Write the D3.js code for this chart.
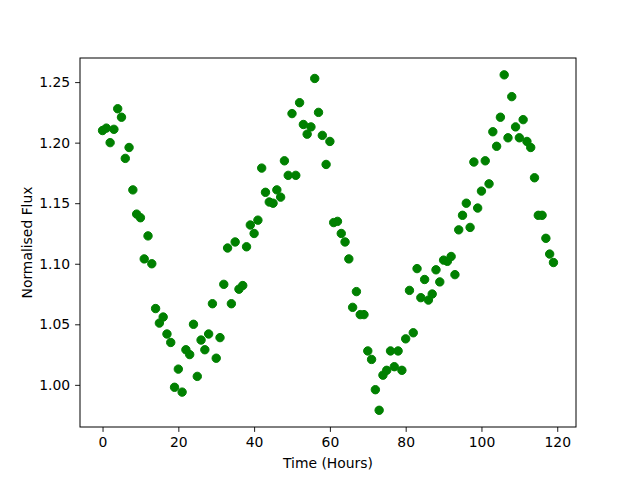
<!DOCTYPE html>
<html>
<head>
<meta charset="utf-8">
<script src="https://cdn.jsdelivr.net/npm/d3@7"></script>
<style>
  body { margin: 0; background: #fff; }
  text { font-family: "DejaVu Sans", sans-serif; }
</style>
</head>
<body>
<div id="chart"></div>
<script>
// hours of observation
var hours = d3.range(0, 120);

// normalised flux per hour
var flux = [
  1.210, 1.212, 1.200, 1.211, 1.228, 1.221, 1.187, 1.196, 1.161, 1.141,
  1.138, 1.104, 1.123, 1.100, 1.063, 1.051, 1.056, 1.042, 1.035, 0.998,
  1.013, 0.994, 1.029, 1.025, 1.050, 1.007, 1.037, 1.029, 1.042, 1.067,
  1.022, 1.039, 1.083, 1.113, 1.067, 1.118, 1.079, 1.082, 1.114, 1.132,
  1.125, 1.136, 1.179, 1.159, 1.151, 1.150, 1.161, 1.155, 1.185, 1.173,
  1.224, 1.173, 1.233, 1.215, 1.207, 1.213, 1.253, 1.225, 1.206, 1.182,
  1.201, 1.134, 1.135, 1.125, 1.118, 1.104, 1.064, 1.077, 1.058, 1.058,
  1.028, 1.021, 0.996, 0.979, 1.008, 1.012, 1.028, 1.015, 1.028, 1.012,
  1.038, 1.078, 1.043, 1.096, 1.072, 1.087, 1.070, 1.075, 1.095, 1.085,
  1.103, 1.102, 1.106, 1.091, 1.128, 1.140, 1.150, 1.130, 1.184, 1.146,
  1.160, 1.185, 1.166, 1.209, 1.197, 1.221, 1.256, 1.204, 1.238, 1.213,
  1.204, 1.219, 1.201, 1.196, 1.171, 1.140, 1.140, 1.121, 1.108, 1.101
];

var xTicks = [0, 20, 40, 60, 80, 100, 120];
var yTicks = [1.00, 1.05, 1.10, 1.15, 1.20, 1.25];

var svgWidth = 640;
var svgHeight = 480;
var margin = { top: 58, right: 64, bottom: 53, left: 80 };
var width = svgWidth - margin.left - margin.right;
var height = svgHeight - margin.top - margin.bottom;

var svg = d3.select("#chart")
    .append("svg")
    .attr("width", svgWidth)
    .attr("height", svgHeight);

var g = svg.append("g")
    .attr("transform", `translate(${margin.left}, ${margin.top})`);

// matplotlib-like 5% padding around the data
var xScale = d3.scaleLinear()
    .domain([-5.95, 124.95])
    .range([0, width]);

var yScale = d3.scaleLinear()
    .domain([0.9652, 1.2699])
    .range([height, 0]);

var bottomAxis = d3.axisBottom(xScale)
    .tickValues(xTicks)
    .tickSize(4.9)
    .tickPadding(4.9)
    .tickFormat(d3.format("d"));

var leftAxis = d3.axisLeft(yScale)
    .tickValues(yTicks)
    .tickSize(4.9)
    .tickPadding(4.9)
    .tickFormat(d3.format(".2f"));

var xAxisG = g.append("g")
    .attr("transform", `translate(0, ${height})`)
    .call(bottomAxis);

var yAxisG = g.append("g")
    .call(leftAxis);

[xAxisG, yAxisG].forEach(function(ax) {
  ax.select(".domain").remove();
  ax.selectAll(".tick line").attr("stroke", "#000").attr("stroke-width", 0.9);
  ax.selectAll(".tick text")
    .attr("fill", "#000")
    .style("font-size", "13.9px")
    .style("font-family", "'DejaVu Sans', sans-serif");
});

// frame
g.append("rect")
    .attr("x", 0)
    .attr("y", 0)
    .attr("width", width)
    .attr("height", height)
    .attr("fill", "none")
    .attr("stroke", "#000")
    .attr("stroke-width", 1);

// points
g.selectAll("circle")
    .data(hours)
    .enter()
    .append("circle")
    .attr("cx", d => xScale(d))
    .attr("cy", (d, i) => yScale(flux[i]))
    .attr("r", 4.2)
    .attr("fill", "green")
    .attr("stroke", "green")
    .attr("stroke-width", 1);

// axis labels
g.append("text")
    .attr("x", width / 2)
    .attr("y", height + 41)
    .attr("text-anchor", "middle")
    .style("font-size", "13.9px")
    .text("Time (Hours)");

g.append("text")
    .attr("transform", "rotate(-90)")
    .attr("x", -height / 2)
    .attr("y", -48)
    .attr("text-anchor", "middle")
    .style("font-size", "13.9px")
    .text("Normalised Flux");
</script>
</body>
</html>
